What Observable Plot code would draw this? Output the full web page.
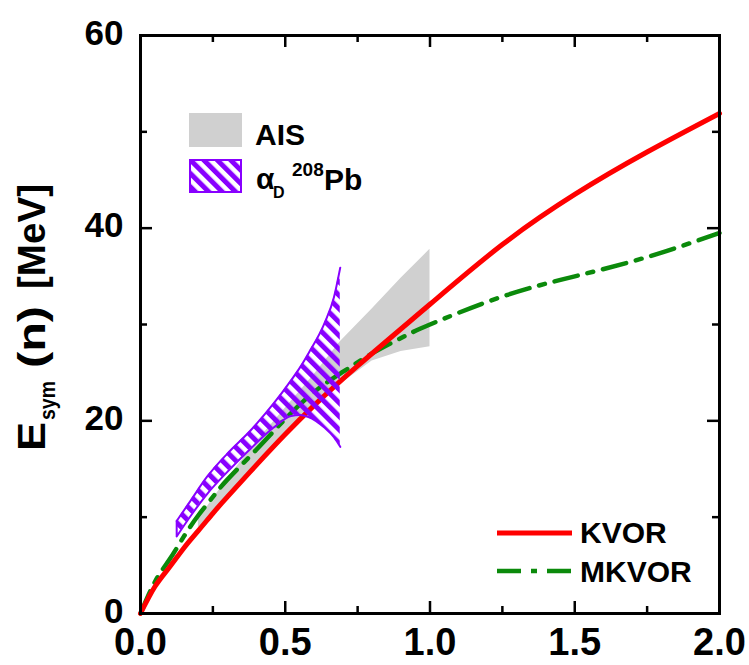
<!DOCTYPE html>
<html><head><meta charset="utf-8">
<script src="https://cdn.jsdelivr.net/npm/d3@7"></script>
<script src="https://cdn.jsdelivr.net/npm/@observablehq/plot@0.6"></script>
<style>
body{margin:0;background:#fff;}
#chart{width:749px;height:665px;overflow:hidden;}
</style>
</head><body><div id="chart"></div>
<script>
// ---- data ----
const kvorN = [0, 0.05, 0.1, 0.15, 0.2, 0.25, 0.3, 0.4, 0.5, 0.6, 0.75, 1.0, 1.25, 1.5, 1.75, 2.0];
const kvorE = [0, 2.8, 4.8, 6.8, 8.6, 10.4, 12.1, 15.4, 18.6, 21.6, 25.7, 32.1, 38.3, 43.5, 47.9, 51.9];

const mkvorN = [0, 0.05, 0.1, 0.15, 0.2, 0.25, 0.3, 0.4, 0.5, 0.6, 0.7, 0.8, 0.9, 1.0, 1.25, 1.5, 1.75, 2.0];
const mkvorE = [0, 3.3, 5.6, 8.0, 10.2, 12.1, 13.9, 17.0, 20.2, 23.0, 25.1, 27.0, 28.6, 30.0, 32.9, 35.0, 37.0, 39.5];

const aisN  = [0.2, 0.3, 0.4, 0.5, 0.6, 0.69, 0.8, 0.9, 1.0];
const aisLo = [8.8, 12.2, 15.4, 18.5, 21.4, 23.8, 26.2, 27.2, 27.7];
const aisHi = [9.8, 14.0, 17.8, 21.3, 24.8, 28.2, 31.6, 34.8, 37.8];

const pbN  = [0.125, 0.175, 0.23, 0.3, 0.38, 0.46, 0.52, 0.55, 0.58, 0.635, 0.668, 0.69];
const pbHi = [9.6, 11.8, 14.2, 16.6, 19.0, 21.8, 24.2, 25.5, 27.0, 30.1, 32.8, 35.9];
const pbLo = [8.0, 10.2, 12.4, 14.7, 17.1, 19.3, 20.5, 20.6, 20.4, 19.3, 18.3, 17.3];

const xMajor = [0, 0.5, 1.0, 1.5, 2.0];
const xMinor = [0.25, 0.75, 1.25, 1.75];
const yMajor = [0, 20, 40, 60];
const yMinor = [10, 30, 50];

const seriesNames = ["KVOR", "MKVOR"];
const bandNames = ["AIS", "208Pb"];

// ---- tables for Plot ----
const kvor = kvorN.map((n, i) => ({n, e: kvorE[i]}));
const mkvor = mkvorN.map((n, i) => ({n, e: mkvorE[i]}));
const ais = aisN.map((n, i) => ({n, lo: aisLo[i], hi: aisHi[i]}));
const pb = pbN.map((n, i) => ({n, lo: pbLo[i], hi: pbHi[i]}));

const RED = "#ff0000", GREEN = "#0b8a0b", PURPLE = "#8800ff", GRAY = "#d0d0d0";
const FONT = "'Liberation Sans', Arial, sans-serif";
const GREEN_DASH = "24,10,6,10";

const chart = Plot.plot({
  width: 749,
  height: 665,
  marginLeft: 140,
  marginRight: 30,
  marginTop: 35,
  marginBottom: 52,
  style: {fontFamily: FONT, background: "white", overflow: "visible"},
  x: {domain: [0, 2], label: null},
  y: {domain: [0, 60], label: null},
  marks: [
    Plot.areaY(ais, {x: "n", y1: "lo", y2: "hi", fill: GRAY, curve: "linear"}),
    Plot.line(mkvor, {x: "n", y: "e", stroke: GREEN, strokeWidth: 4.5, strokeDasharray: GREEN_DASH, curve: "natural"}),
    Plot.line(kvor, {x: "n", y: "e", stroke: RED, strokeWidth: 5, curve: "natural"}),
    Plot.areaY(pb, {x: "n", y1: "lo", y2: "hi", fill: "url(#hatch)", curve: "monotone-x"}),
    Plot.line(pb, {x: "n", y: "hi", stroke: PURPLE, strokeWidth: 2, curve: "monotone-x"}),
    Plot.line(pb, {x: "n", y: "lo", stroke: PURPLE, strokeWidth: 2, curve: "monotone-x"}),
    Plot.ruleX(pb.slice(0, 1), {x: "n", y1: "lo", y2: "hi", stroke: PURPLE, strokeWidth: 2}),
    // inward ticks
    Plot.ruleX(xMajor, {x: d => d, y1: 0, y2: 0, insetBottom: 12, stroke: "black", strokeWidth: 2.5}),
    Plot.ruleX(xMinor, {x: d => d, y1: 0, y2: 0, insetBottom: 7, stroke: "black", strokeWidth: 2.5}),
    Plot.ruleX(xMajor, {x: d => d, y1: 60, y2: 60, insetBottom: -12, stroke: "black", strokeWidth: 2.5}),
    Plot.ruleX(xMinor, {x: d => d, y1: 60, y2: 60, insetBottom: -7, stroke: "black", strokeWidth: 2.5}),
    Plot.ruleY(yMajor, {y: d => d, x1: 0, x2: 0, insetRight: -12, stroke: "black", strokeWidth: 2.5}),
    Plot.ruleY(yMinor, {y: d => d, x1: 0, x2: 0, insetRight: -7, stroke: "black", strokeWidth: 2.5}),
    Plot.ruleY(yMajor, {y: d => d, x1: 2, x2: 2, insetRight: 12, stroke: "black", strokeWidth: 2.5}),
    Plot.ruleY(yMinor, {y: d => d, x1: 2, x2: 2, insetRight: 7, stroke: "black", strokeWidth: 2.5}),
    Plot.frame({stroke: "black", strokeWidth: 3}),
    Plot.axisX(xMajor, {anchor: "bottom", tickSize: 0, tickPadding: 15, fontSize: 38, fontWeight: "bold", fill: "black", tickFormat: d => d.toFixed(1), label: null}),
    Plot.axisY(yMajor, {anchor: "left", tickSize: 0, tickPadding: 17, dy: -2, fontSize: 35, fontWeight: "bold", fill: "black", tickFormat: d => String(d), label: null})
  ]
});

document.getElementById("chart").appendChild(chart);
const svg = d3.select(chart);

// hatch pattern
const defs = svg.insert("defs", ":first-child");
const pat = defs.append("pattern").attr("id", "hatch").attr("patternUnits", "userSpaceOnUse")
  .attr("width", 9.5).attr("height", 9.5).attr("patternTransform", "rotate(-45)");
pat.append("rect").attr("x", 0).attr("y", 0).attr("width", 5).attr("height", 9.5).attr("fill", PURPLE);

// y-axis label (rotated)
const yl = svg.append("g").attr("transform", "translate(45,0) rotate(-90)")
  .attr("font-family", FONT).attr("font-weight", "bold").attr("fill", "black").attr("text-anchor", "start");
const ylPieces = [
  {t: "E", x: -451, y: 0, s: 38, len: 29},
  {t: "sym", x: -420, y: 10, s: 22, len: 39},
  {t: "(n)", x: -368, y: 0, s: 38, len: 62},
  {t: "[MeV]", x: -289, y: 0, s: 38, len: 105}
];
for (const p of ylPieces) {
  yl.append("text").attr("x", p.x).attr("y", p.y).attr("font-size", p.s)
    .attr("textLength", p.len).attr("lengthAdjust", "spacingAndGlyphs").text(p.t);
}

// legend: bands
const lg = svg.append("g").attr("font-family", FONT).attr("font-weight", "bold").attr("fill", "black").attr("text-anchor", "start");
lg.append("rect").attr("x", 189).attr("y", 113).attr("width", 53).attr("height", 34).attr("fill", GRAY);
lg.append("text").attr("x", 255).attr("y", 145).attr("font-size", 30).text(bandNames[0]);
lg.append("rect").attr("x", 190).attr("y", 160).attr("width", 51).attr("height", 32)
  .attr("fill", "url(#hatch)").attr("stroke", PURPLE).attr("stroke-width", 2);
lg.append("text").attr("x", 256).attr("y", 189).attr("font-size", 30).text("α");
lg.append("text").attr("x", 273).attr("y", 198).attr("font-size", 16).text("D");
lg.append("text").attr("x", 292).attr("y", 176).attr("font-size", 19).text("208");
lg.append("text").attr("x", 324).attr("y", 190).attr("font-size", 30).text("Pb");

// legend: lines
lg.append("line").attr("x1", 497).attr("x2", 572).attr("y1", 533).attr("y2", 533)
  .attr("stroke", RED).attr("stroke-width", 5);
lg.append("text").attr("x", 580).attr("y", 543).attr("font-size", 30).text(seriesNames[0]);
lg.append("line").attr("x1", 497).attr("x2", 572).attr("y1", 571).attr("y2", 571)
  .attr("stroke", GREEN).attr("stroke-width", 4.5).attr("stroke-dasharray", GREEN_DASH);
lg.append("text").attr("x", 580).attr("y", 582).attr("font-size", 30).text(seriesNames[1]);
</script>
</body></html>
